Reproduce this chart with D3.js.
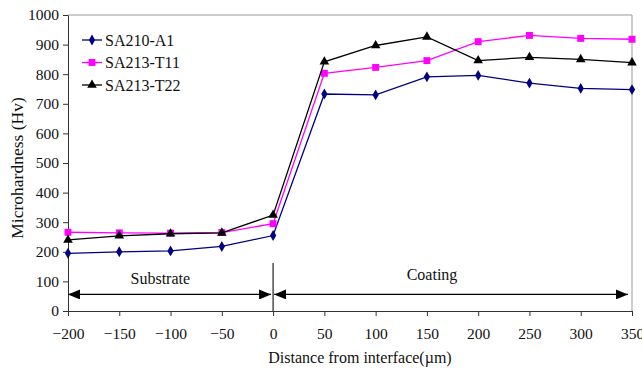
<!DOCTYPE html>
<html>
<head>
<meta charset="utf-8">
<style>
  body { margin: 0; background: #fff; }
  text { font-family: "Liberation Serif", "Times New Roman", serif; fill: #111; }
  .tick text { font-size: 15.5px; }
  .axis path, .axis line { stroke: #333; }
</style>
</head>
<body>
<svg class="chart"></svg>
<script src="https://cdn.jsdelivr.net/npm/d3@7"></script>
<script>
var width = 642, height = 372;
var margin = {left: 68, right: 10, top: 15, bottom: 61};

var distances = [-200, -150, -100, -50, 0, 50, 100, 150, 200, 250, 300, 350];
var seriesNames = ["SA210-A1", "SA213-T11", "SA213-T22"];
var sa210 = [195, 200, 203, 218, 255, 733, 730, 791, 796, 770, 752, 748];
var sa213t11 = [266, 264, 263, 265, 295, 803, 823, 846, 910, 931, 921, 918];
var sa213t22 = [240, 254, 261, 264, 324, 842, 897, 926, 846, 857, 850, 839];
var xTicks = [-200, -150, -100, -50, 0, 50, 100, 150, 200, 250, 300, 350];
var yTicks = [0, 100, 200, 300, 400, 500, 600, 700, 800, 900, 1000];

var series = [
  {name: seriesNames[0], values: sa210, color: "#000080", marker: d3.symbolDiamond, size: 34},
  {name: seriesNames[1], values: sa213t11, color: "#ff00ff", marker: d3.symbolSquare, size: 48},
  {name: seriesNames[2], values: sa213t22, color: "#000000", marker: d3.symbolTriangle, size: 40}
];

var chart = d3.select(".chart")
  .attr("width", width)
  .attr("height", height);

var x = d3.scaleLinear().domain([-200, 350]).range([margin.left, width - margin.right]);
var y = d3.scaleLinear().domain([0, 1000]).range([height - margin.bottom, margin.top]);

// frame (top and right sides)
chart.append("path")
  .attr("d", "M" + x(-200) + "," + y(1000) + "H" + x(350) + "V" + y(0))
  .attr("fill", "none")
  .attr("stroke", "#999")
  .attr("stroke-width", 1);

chart.append("g")
  .attr("class", "axis")
  .attr("transform", "translate(0," + y(0) + ")")
  .call(d3.axisBottom(x).tickValues(xTicks).tickFormat(d3.format("d"))
    .tickSize(5).tickSizeOuter(0).tickPadding(12));

chart.append("g")
  .attr("class", "axis")
  .attr("transform", "translate(" + x(-200) + ",0)")
  .call(d3.axisLeft(y).tickValues(yTicks).tickFormat(d3.format("d"))
    .tickSize(5).tickSizeOuter(0).tickPadding(4));

// axis titles
chart.append("text")
  .attr("x", 360)
  .attr("y", 363)
  .attr("text-anchor", "middle")
  .style("font-size", "16px")
  .text("Distance from interface(\u00b5m)");

chart.append("text")
  .attr("transform", "translate(23,168) rotate(-90)")
  .attr("text-anchor", "middle")
  .style("font-size", "17.5px")
  .text("Microhardness (Hv)");

// substrate / coating annotation
var defs = chart.append("defs");
defs.append("marker")
  .attr("id", "arrow")
  .attr("viewBox", "0 0 12 10")
  .attr("refX", 12).attr("refY", 5)
  .attr("markerWidth", 12).attr("markerHeight", 10)
  .attr("markerUnits", "userSpaceOnUse")
  .attr("orient", "auto-start-reverse")
  .append("path")
  .attr("d", "M0,0L12,5L0,10Z")
  .attr("fill", "#000");

var arrowY = y(56);
chart.append("line")
  .attr("x1", x(0)).attr("x2", x(0))
  .attr("y1", y(162)).attr("y2", y(0))
  .attr("stroke", "#222").attr("stroke-width", 1.2);

chart.append("line")
  .attr("x1", x(-200)).attr("x2", x(-2))
  .attr("y1", arrowY).attr("y2", arrowY)
  .attr("stroke", "#000").attr("stroke-width", 1.3)
  .attr("marker-start", "url(#arrow)")
  .attr("marker-end", "url(#arrow)");

chart.append("line")
  .attr("x1", x(1)).attr("x2", x(346))
  .attr("y1", arrowY).attr("y2", arrowY)
  .attr("stroke", "#000").attr("stroke-width", 1.3)
  .attr("marker-start", "url(#arrow)")
  .attr("marker-end", "url(#arrow)");

chart.append("text")
  .attr("x", x(-110)).attr("y", y(90))
  .attr("text-anchor", "middle")
  .style("font-size", "16px")
  .text("Substrate");

chart.append("text")
  .attr("x", x(155)).attr("y", y(106))
  .attr("text-anchor", "middle")
  .style("font-size", "16px")
  .text("Coating");

// series
var line = d3.line()
  .x(function(d, i) { return x(distances[i]); })
  .y(function(d) { return y(d); });

series.forEach(function(s) {
  chart.append("path")
    .datum(s.values)
    .attr("d", line)
    .attr("fill", "none")
    .attr("stroke", s.color)
    .attr("stroke-width", 1.3);

  chart.selectAll(null)
    .data(s.values)
    .enter()
    .append("path")
    .attr("transform", function(d, i) {
      return "translate(" + x(distances[i]) + "," + y(d) + ")";
    })
    .attr("d", d3.symbol().type(s.marker).size(s.size))
    .attr("fill", s.color);
});

// legend
var legend = chart.append("g")
  .attr("transform", "translate(82,40)");

var items = legend.selectAll("g")
  .data(series)
  .enter()
  .append("g")
  .attr("transform", function(d, i) { return "translate(0," + (i * 22.5) + ")"; });

items.append("line")
  .attr("x1", 0).attr("x2", 20)
  .attr("stroke", function(d) { return d.color; })
  .attr("stroke-width", 1.3);

items.append("path")
  .attr("transform", "translate(10,0)")
  .attr("d", function(d) { return d3.symbol().type(d.marker).size(d.size)(); })
  .attr("fill", function(d) { return d.color; });

items.append("text")
  .attr("x", 23)
  .attr("y", 5.5)
  .style("font-size", "16px")
  .text(function(d) { return d.name; });
</script>
</body>
</html>
